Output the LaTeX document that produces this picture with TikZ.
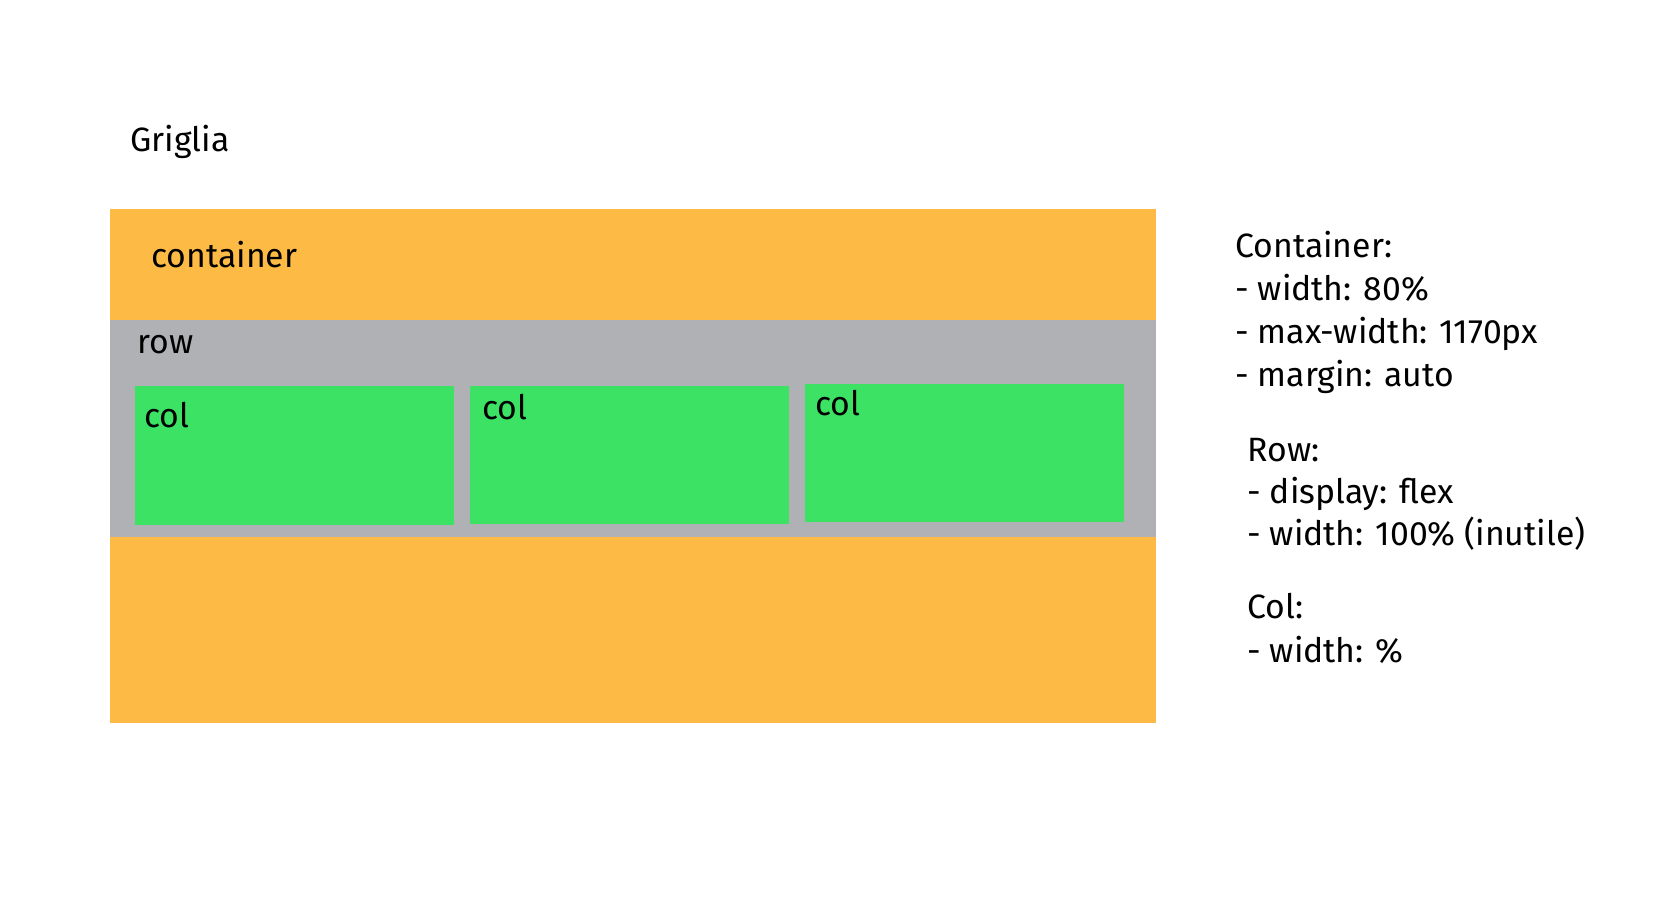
\documentclass[tikz,border=0pt]{standalone}
\usepackage{fontspec}
\setmainfont{Fira Sans}
\usetikzlibrary{positioning}
\definecolor{BoxOrange}{RGB}{253,187,70}
\definecolor{RowGray}{RGB}{176,177,181}
\definecolor{ColGreen}{RGB}{59,226,100}
\tikzset{txt/.style={anchor=base west,inner sep=0pt,font=\fontsize{19.2}{22}\selectfont}}
\begin{document}
\begin{tikzpicture}[x=0.02cm,y=-0.02cm]
\useasboundingbox[fill=white] (0,0) rectangle (1664,913);
\fill[BoxOrange] (110,209) rectangle (1156,723);
\fill[RowGray] (110,320) rectangle (1156,537);
\fill[ColGreen] (135,386) rectangle (454,525);
\fill[ColGreen] (470,386) rectangle (789,524);
\fill[ColGreen] (805,384) rectangle (1124,522);
\node[txt] (title) at (130,151) {Griglia};
\node[txt] (container) at (151,267) {container};
\node[txt] (row) at (137,353) {row};
\node[txt] (col1) at (144,427) {col};
\node[txt] (col2) at (482,419) {col};
\node[txt] (col3) at (815,415) {col};
% notes on the right
\foreach \t [count=\i from 0] in {Container:,- width: 80\%,- max-width: 1170px,- margin: auto}
  \node[txt] (cnt\i) at (1235,257+43.3*\i) {\t};
\foreach \t [count=\i from 0] in {Row:,- display: flex,- width: 100\% (inutile)}
  \node[txt] (rw\i) at (1247,461+42*\i) {\t};
\foreach \t [count=\i from 0] in {Col:,- width: \%}
  \node[txt] (cl\i) at (1247,618+44*\i) {\t};
\end{tikzpicture}
\end{document}
